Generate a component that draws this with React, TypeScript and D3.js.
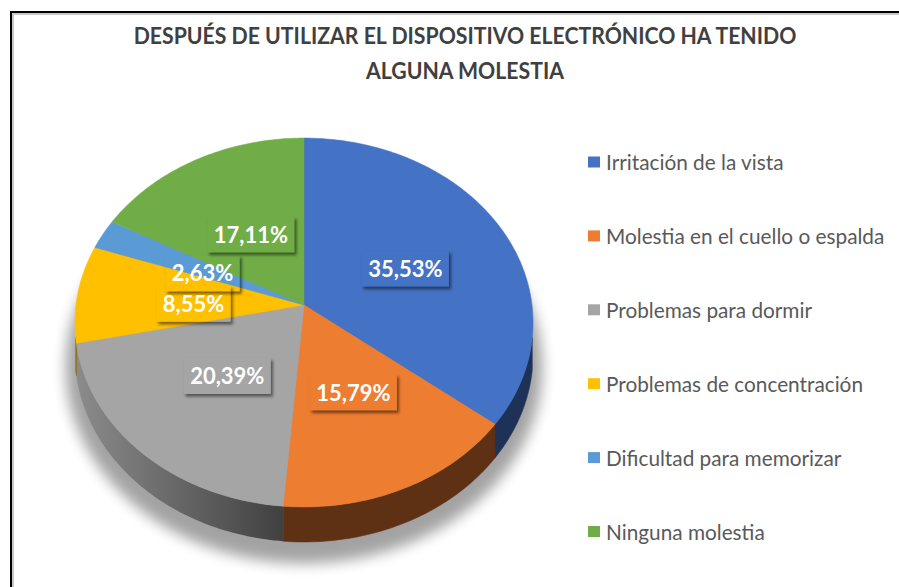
import React, { useEffect, useRef } from "react";
import * as d3 from "d3";

// datos
const categories = [
  "Irritación de la vista",
  "Molestia en el cuello o espalda",
  "Problemas para dormir",
  "Problemas de concentración",
  "Dificultad para memorizar",
  "Ninguna molestia",
];
const values = [35.53, 15.79, 20.39, 8.55, 2.63, 17.11];
const labels = ["35,53%", "15,79%", "20,39%", "8,55%", "2,63%", "17,11%"];
const titleLines = [
  "DESPUÉS DE UTILIZAR EL DISPOSITIVO ELECTRÓNICO HA TENIDO",
  "ALGUNA MOLESTIA",
];

const topColors = ["#4472c4", "#ed7d31", "#a5a5a5", "#ffc000", "#5b9bd5", "#70ad47"];
const sideColors = ["#1e3258", "#5e3114", "#4a4a4a", "#8a6a00", "#2e5a80", "#3e6126"];

const W = 899;
const H = 587;
const FONT = "Lato, 'Open Sans', sans-serif";

const App = () => {
  const svgRef = useRef(null);

  useEffect(() => {
    if (svgRef.current) draw();
  }, []);

  const draw = () => {
    const svg = d3.select(svgRef.current);
    svg.selectAll("*").remove();

    // proyeccion en perspectiva del disco
    const cx = 304, cy = 305, A = 228, B = 182.8, K = 0.0949, depth = 31.7;
    const project = (t, r, h) => {
      const u = r * Math.sin(t);
      const v = -r * Math.cos(t);
      const w = 1 - K * v;
      return [cx + (A * u) / w, cy + (B * v + depth * h) / w];
    };
    const arcPts = (a0, a1, r, h) => {
      const n = Math.max(2, Math.ceil(((a1 - a0) * 180) / Math.PI));
      return d3.range(n + 1).map((i) => project(a0 + ((a1 - a0) * i) / n, r, h));
    };
    const line = d3.line().curve(d3.curveLinear);
    // rango visible de la cara lateral
    const sideMin = (100 * Math.PI) / 180;
    const sideMax = (260 * Math.PI) / 180;

    const pie = d3.pie().sort(null).value((d) => d)(values);

    const defs = svg.append("defs");
    defs
      .append("filter")
      .attr("id", "pieShadow")
      .attr("x", "-20%")
      .attr("y", "-20%")
      .attr("width", "140%")
      .attr("height", "140%")
      .append("feGaussianBlur")
      .attr("stdDeviation", 7);
    defs
      .append("filter")
      .attr("id", "boxBlur")
      .attr("x", "-30%")
      .attr("y", "-50%")
      .attr("width", "160%")
      .attr("height", "200%")
      .append("feGaussianBlur")
      .attr("stdDeviation", 1.6);

    const grayGrad = defs
      .append("linearGradient")
      .attr("id", "side2")
      .attr("gradientUnits", "userSpaceOnUse")
      .attr("x1", 75)
      .attr("x2", 285)
      .attr("y1", 0)
      .attr("y2", 0);
    grayGrad.append("stop").attr("offset", 0).attr("stop-color", "#8c8c8c");
    grayGrad.append("stop").attr("offset", 1).attr("stop-color", "#404040");

    // fondo y marco
    svg.append("rect").attr("width", W).attr("height", H).attr("fill", "#fff");
    svg
      .append("rect")
      .attr("x", 13)
      .attr("y", 14)
      .attr("width", W + 20)
      .attr("height", H + 20)
      .attr("fill", "none")
      .attr("stroke", "#c8c8c8")
      .attr("stroke-width", 2);
    svg
      .append("rect")
      .attr("x", 11)
      .attr("y", 12)
      .attr("width", W + 20)
      .attr("height", H + 20)
      .attr("fill", "none")
      .attr("stroke", "#000")
      .attr("stroke-width", 2);

    // titulo
    const title = svg
      .append("g")
      .attr("fill", "#404040")
      .attr("font-family", FONT)
      .attr("font-weight", "bold")
      .attr("font-size", 22);
    titleLines.forEach((t, i) => {
      title
        .append("text")
        .attr("text-anchor", "middle")
        .attr("transform", `translate(465, ${44 + i * 35}) scale(0.966, 1)`)
        .text(t);
    });

    // sombra bajo el pastel
    const shadowPts = arcPts(0, 2 * Math.PI, 1.04, 1.35);
    svg
      .append("path")
      .attr("d", line(shadowPts) + "Z")
      .attr("fill", "#000")
      .attr("opacity", 0.36)
      .attr("filter", "url(#pieShadow)");

    const pieG = svg.append("g");

    // caras laterales
    pieG
      .selectAll(".side")
      .data(pie.filter((d) => d.endAngle > sideMin && d.startAngle < sideMax))
      .enter()
      .append("path")
      .attr("class", "side")
      .attr("d", (d) => {
        const a0 = Math.max(d.startAngle, sideMin);
        const a1 = Math.min(d.endAngle, sideMax);
        const top = arcPts(a0, a1, 1, 0);
        const bot = arcPts(a0, a1, 1, 1).reverse();
        return line(top.concat(bot)) + "Z";
      })
      .attr("fill", (d) => (d.index === 2 ? "url(#side2)" : sideColors[d.index]))
      .attr("stroke", (d) => (d.index === 2 ? "none" : sideColors[d.index]))
      .attr("stroke-width", 0.5);

    // caras superiores
    pieG
      .selectAll(".top")
      .data(pie)
      .enter()
      .append("path")
      .attr("class", "top")
      .attr("d", (d) => {
        const pts = [project(0, 0, 0)].concat(arcPts(d.startAngle, d.endAngle, 1, 0));
        return line(pts) + "Z";
      })
      .attr("fill", (d, i) => topColors[i])
      .attr("stroke", (d, i) => topColors[i])
      .attr("stroke-width", 0.5);

    // etiquetas de datos
    const labelNudge = [[1, 3], [1.5, 0], [1.5, 0], [3, 4.5], [1, 4.5], [3, 5]];
    const labelData = pie.map((d, i) => {
      const mid = (d.startAngle + d.endAngle) / 2;
      const [x, y] = project(mid, 0.5, 0);
      return { x: x + labelNudge[i][0], y: y + labelNudge[i][1], i };
    });
    const order = [0, 1, 2, 5, 4, 3];
    order.forEach((i) => {
      const l = labelData[i];
      const g = svg.append("g");
      const shadowRect = g.append("rect");
      const txt = g
        .append("text")
        .attr("text-anchor", "middle")
        .attr("transform", `translate(${l.x}, ${l.y + 8})`)
        .attr("font-family", FONT)
        .attr("font-weight", "bold")
        .attr("font-size", 22)
        .attr("fill", "#fff")
        .text(labels[i]);
      const tw = txt.node().getComputedTextLength();
      const bw = tw + 13;
      const bh = 36;
      const bx = l.x - bw / 2;
      const by = l.y - bh / 2;
      const maskId = `m${i}`;
      const mask = defs.append("mask").attr("id", maskId);
      mask.append("rect").attr("x", 0).attr("y", 0).attr("width", W).attr("height", H).attr("fill", "#fff");
      mask.append("rect").attr("x", bx).attr("y", by).attr("width", bw).attr("height", bh).attr("fill", "#000");
      shadowRect
        .attr("x", bx + 2)
        .attr("y", by + 2.5)
        .attr("width", bw)
        .attr("height", bh)
        .attr("fill", "#000")
        .attr("opacity", 0.5)
        .attr("filter", "url(#boxBlur)")
        .attr("mask", `url(#${maskId})`);
    });

    // leyenda
    const legend = svg
      .append("g")
      .selectAll(".item")
      .data(categories)
      .enter()
      .append("g")
      .attr("class", "item")
      .attr("transform", (d, i) => `translate(588, ${162 + i * 73.9})`);
    legend
      .append("rect")
      .attr("x", 0)
      .attr("y", -5.5)
      .attr("width", 12)
      .attr("height", 11)
      .attr("fill", (d, i) => topColors[i]);
    legend
      .append("text")
      .attr("transform", "translate(18, 8) scale(0.99, 1)")
      .attr("font-family", FONT)
      .attr("font-size", 21)
      .attr("fill", "#595959")
      .text((d) => d);
  };

  return (
    <svg
      ref={svgRef}
      width={W}
      height={H}
      style={{ position: "fixed", left: 0, top: 0, display: "block" }}
    />
  );
};

export default App;
